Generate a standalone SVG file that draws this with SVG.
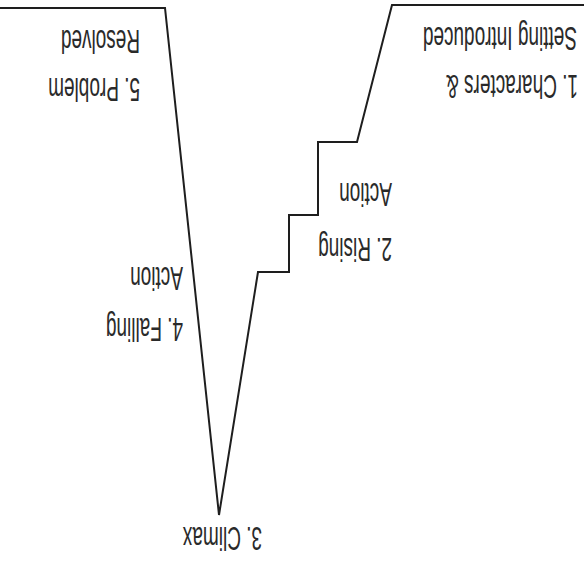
<svg xmlns="http://www.w3.org/2000/svg" width="584" height="565" viewBox="0 0 584 565">
  <style>
    .lbl { font-family: "Liberation Sans", Arial, sans-serif; font-size: 19px; fill: #2a2a2a; text-anchor: start; }
    .ln { fill: none; stroke: #1e1e1e; stroke-width: 2; stroke-linejoin: miter; }
  </style>
  <rect width="584" height="565" fill="#ffffff"/>
  <g id="connectors">
    <path class="ln" d="M0,8 H165 L219,515 L258,272 H289 V215 H318 V142 H357 L392,5 H584"/>
  </g>
  <g id="node-setup">
    <text class="lbl" transform="translate(577,27) scale(-1,-1.75)">Setting Introduced</text>
    <text class="lbl" transform="translate(578,75) scale(-1,-1.75)">1. Characters &amp;</text>
  </g>
  <g id="node-rising">
    <text class="lbl" transform="translate(392,238) scale(-1,-1.75)">2. Rising</text>
    <text class="lbl" transform="translate(392,183) scale(-1,-1.75)">Action</text>
  </g>
  <g id="node-climax">
    <text class="lbl" transform="translate(262,527) scale(-1,-1.75)">3. Climax</text>
  </g>
  <g id="node-falling">
    <text class="lbl" transform="translate(183,318) scale(-1,-1.75)">4. Falling</text>
    <text class="lbl" transform="translate(183,267) scale(-1,-1.75)">Action</text>
  </g>
  <g id="node-resolution">
    <text class="lbl" transform="translate(140,78) scale(-1,-1.75)">5. Problem</text>
    <text class="lbl" transform="translate(140,30) scale(-1,-1.75)">Resolved</text>
  </g>
</svg>
